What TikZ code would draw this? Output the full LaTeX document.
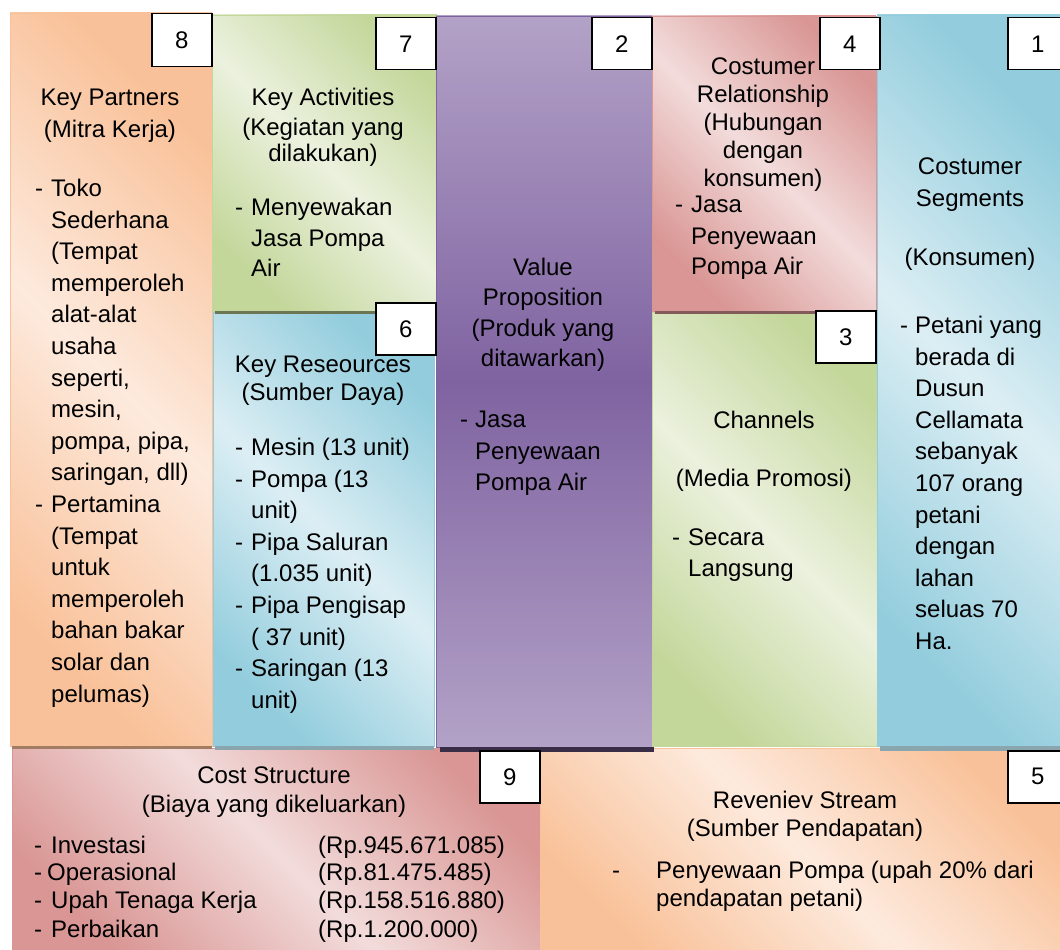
\documentclass[tikz,border=0pt]{standalone}
\usepackage{fontspec}
\setmainfont{Liberation Sans}
\definecolor{orgdark}{HTML}{F9C199}
\definecolor{orglight}{HTML}{FDEADD}
\definecolor{grndark}{HTML}{C4D79B}
\definecolor{grnlight}{HTML}{EBF1DE}
\definecolor{bludark}{HTML}{93CDDD}
\definecolor{blulight}{HTML}{DCEEF4}
\definecolor{pnkdark}{HTML}{D99694}
\definecolor{pnklight}{HTML}{F2DCDB}
\definecolor{purdark}{HTML}{7F63A1}
\definecolor{purlight}{HTML}{B3A2C7}
\newcommand{\bodyfont}{\fontsize{24}{31.6}\selectfont}
\newcommand{\headfont}{\fontsize{24}{28}\selectfont}
\newcommand{\lidash}[1][16pt]{\makebox[#1][l]{-}}
\newcommand{\liind}[1][16pt]{\hspace*{#1}}
\begin{document}
\begin{tikzpicture}[x=1pt,y=-1pt]
\tikzstyle{every node}=[inner sep=0pt,font=\bodyfont]
\tikzstyle{panel}=[draw=#1dark,left color=#1dark,right color=#1dark,middle color=#1light,shading angle=-45]
\tikzstyle{numbox}=[draw,line width=1.5pt,fill=white,minimum width=60pt,minimum height=52pt,anchor=north west]
\tikzstyle{head}=[anchor=north,align=center]
\tikzstyle{list}=[anchor=north west,align=left]
\useasboundingbox (0,0) rectangle (1060,950);
\clip (0,0) rectangle (1060,950);
% bottom row
\path[panel=pnk] (12,748) rectangle (540,955);
\path[panel=org] (540,748) rectangle (1065,955);
% upper columns
\path[panel=org] (10,13) rectangle (212,746);
\path[panel=grn] (212,15) rectangle (437,311);
\path[panel=blu] (213,312) rectangle (434,746);
\path[draw=purdark,top color=purlight,bottom color=purlight,middle color=purdark] (436,16) rectangle (652,747);
\path[panel=pnk] (652,16) rectangle (876,311);
\path[panel=grn] (652,312) rectangle (877,746);
\path[panel=blu] (877,15) rectangle (1065,746);
% shadow lines
\fill[orgdark!65!black] (12,746) rectangle (212,749);
\fill[grndark!55!black] (215,311) rectangle (437,314);
\fill[bludark!50!gray] (215,746) rectangle (434,750);
\fill[purdark!45!black] (440,747) rectangle (654,752);
\fill[pnkdark!60!black] (655,311) rectangle (876,314);
\fill[bludark!50!gray] (880,746) rectangle (1065,751);
% key partners
\node[head] (kphead) at (110,89) {Key Partners\\(Mitra Kerja)};
\node[list] (kplist) at (35,179) {\lidash Toko\\\liind Sederhana\\\liind (Tempat\\\liind memperoleh\\\liind alat-alat\\\liind usaha\\\liind seperti,\\\liind mesin,\\\liind pompa, pipa,\\\liind saringan, dll)\\\lidash Pertamina\\\liind (Tempat\\\liind untuk\\\liind memperoleh\\\liind bahan bakar\\\liind solar dan\\\liind pelumas)};
% key activities
\node[head] (kahead) at (323,88) {Key Activities\\[-1.6pt](Kegiatan yang\\[-6pt]dilakukan)};
\node[list] (kalist) at (235,198) {\lidash Menyewakan\\[-1pt]\liind Jasa Pompa\\[-1pt]\liind Air};
% key resources
\node[head,font=\headfont] (krhead) at (323,356) {Key Reseources\\(Sumber Daya)};
\node[list] (krlist) at (235,438) {\lidash Mesin (13 unit)\\\lidash Pompa (13\\\liind unit)\\\lidash Pipa Saluran\\\liind (1.035 unit)\\\lidash Pipa Pengisap\\\liind ( 37 unit)\\\lidash Saringan (13\\\liind unit)};
% value proposition
\node[head,font=\headfont] (vphead) at (543,258) {Value\\[2.3pt]Proposition\\[2.3pt](Produk yang\\[2.3pt]ditawarkan)};
\node[list] (vplist) at (460,411) {\lidash[15pt]Jasa\\\liind[15pt]Penyewaan\\\liind[15pt]Pompa Air};
% costumer relationship
\node[head,font=\headfont] (crhead) at (763,58) {Costumer\\Relationship\\(Hubungan\\dengan\\konsumen)};
\node[list] (crlist) at (675,196) {\lidash Jasa\\\liind Penyewaan\\[-1.6pt]\liind Pompa Air};
% channels
\node[head] (chhead) at (764,411) {Channels\\[26.4pt](Media Promosi)};
\node[list] (chlist) at (672,529) {\lidash Secara\\[-0.6pt]\liind Langsung};
% costumer segments
\node[head] (cshead) at (970,158) {Costumer\\Segments\\[27pt](Konsumen)};
\node[list] (cslist) at (900,316) {\lidash[15pt]Petani yang\\\liind[15pt]berada di\\\liind[15pt]Dusun\\\liind[15pt]Cellamata\\\liind[15pt]sebanyak\\\liind[15pt]107 orang\\\liind[15pt]petani\\\liind[15pt]dengan\\\liind[15pt]lahan\\\liind[15pt]seluas 70\\\liind[15pt]Ha.};
% cost structure
\node[head,font=\headfont] (costhead) at (274,767) {Cost Structure\\[1pt](Biaya yang dikeluarkan)};
\node[list,font=\headfont] (costlist) at (34,836) {\lidash[17pt]Investasi\\[-0.7pt]\lidash[13pt]Operasional\\[-0.7pt]\lidash[17pt]Upah Tenaga Kerja\\[1pt]\lidash[17pt]Perbaikan};
\node[list,font=\headfont] (costval) at (318,836) {(Rp.945.671.085)\\[-0.7pt](Rp.81.475.485)\\[-0.7pt](Rp.158.516.880)\\[1pt](Rp.1.200.000)};
% reveniev stream
\node[head,font=\headfont] (revhead) at (805,791) {Reveniev Stream\\(Sumber Pendapatan)};
\node[list,font=\headfont] (revlist) at (612,861) {\lidash[44pt]Penyewaan Pompa (upah 20\% dari\\\liind[44pt]pendapatan petani)};
% numbers
\node[numbox,minimum height=53pt] (n8) at (151,13) {8};
\node[numbox] (n7) at (375,17) {7};
\node[numbox] (n2) at (591,17) {2};
\node[numbox] (n4) at (819,17) {4};
\node[numbox] (n1) at (1007,17) {1};
\node[numbox] (n6) at (375,302) {6};
\node[numbox] (n3) at (815,310) {3};
\node[numbox] (n9) at (479,750) {9};
\node[numbox] (n5) at (1007,750) {5};
\end{tikzpicture}
\end{document}
